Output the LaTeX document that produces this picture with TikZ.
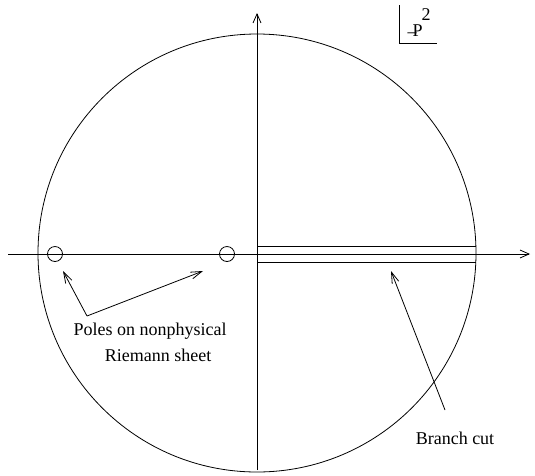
\documentclass[tikz,border=0pt]{standalone}
\usepackage{fontspec}
\setmainfont{Liberation Serif}
\usetikzlibrary{arrows.meta}

\begin{document}
\begin{tikzpicture}[x=1pt, y=-1pt, line width=0.8pt,
    every node/.style={inner sep=0pt, font=\rmfamily\fontsize{18}{20}\selectfont},
    pole/.style={circle, draw, minimum size=15pt},
    axis/.style={-{Straight Barb[length=9pt, width=8pt]}},
    pointer/.style={-{Straight Barb[length=11pt, width=7pt]}}]
      \useasboundingbox (0,0) rectangle (535,475);
      \draw (257,253) circle (219);
      \draw[axis] (8,254) -- (530,254);
      \draw[axis] (257,470) -- (257,13);

      % branch cut
      \draw (258,246) -- (476,246);
      \draw (258,262) -- (476,262);

      % poles
      \node[pole] (p1) at (55,254) {};
      \node[pole] (p2) at (227,254) {};
      \coordinate (v) at (87,316);
      \coordinate (t1) at (63,271);
      \coordinate (t2) at (203,271);
      \draw[pointer] (v) -- (t1);
      \draw[pointer] (v) -- (t2);
      \node (poles) at (150,331) {Poles on nonphysical};
      \node (sheet) at (158,355) {Riemann sheet};

      \coordinate (b) at (445,410);
      \coordinate (c) at (391,271);
      \draw[pointer] (b) -- (c);
      \node (cut) at (455,438) {Branch cut};

      % variable label
      \draw (399,5) -- (399,43) -- (437,43);
      \node (negP) at (415,31.5) {\raisebox{-1pt}{–}\kern-4pt P};
      \node (sq) at (426,15) {2};
    \end{tikzpicture}
\end{document}
